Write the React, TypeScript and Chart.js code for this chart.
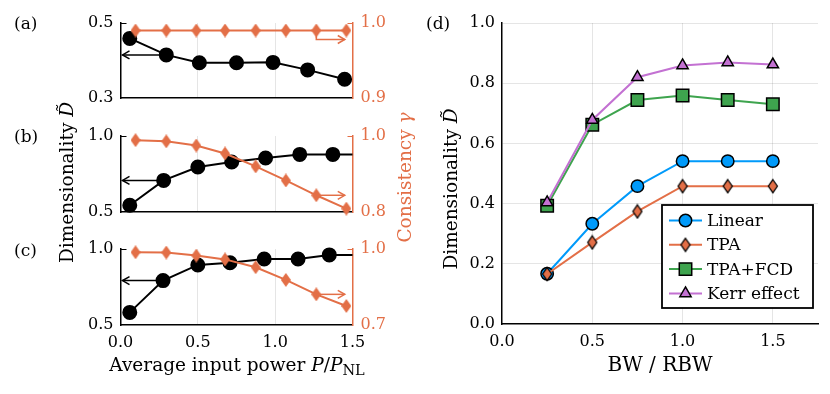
import React, { useEffect, useRef } from "react";
import { Chart, registerables } from "chart.js";
Chart.register(...registerables);

const W = 830;
const H = 394;
const BLUE = "#009AFA";
const ORANGE = "#E36F47";
const GREEN = "#3EA44E";
const PURPLE = "#C371D2";
const GRID = "rgba(0,0,0,0.1)";
const SERIF = "'DejaVu Serif', 'Liberation Serif', serif";
const FS = 16;
const TFS = 18.5;
const LFS = 17;

// ---- panels (a)-(c): dimensionality (black, left axis) and consistency (orange, right axis)
const powerTicks = [0, 0.5, 1.0, 1.5];
const powerCon = [0.097, 0.296, 0.49, 0.676, 0.874, 1.069, 1.266, 1.46];

const powerDimA = [0.06, 0.296, 0.51, 0.75, 0.986, 1.21, 1.449];
const dimA = [0.459, 0.415, 0.394, 0.394, 0.395, 0.375, 0.35];
const conA = [0.99, 0.99, 0.99, 0.99, 0.99, 0.99, 0.99, 0.99];

const powerDimB = [0.06, 0.279, 0.5, 0.719, 0.938, 1.159, 1.373, 1.59];
const dimB = [0.544, 0.708, 0.796, 0.829, 0.855, 0.879, 0.879, 0.879];
const conB = [0.989, 0.986, 0.975, 0.954, 0.92, 0.883, 0.844, 0.809];

const powerDimC = [0.06, 0.275, 0.5, 0.708, 0.929, 1.148, 1.35, 1.57];
const dimC = [0.583, 0.792, 0.895, 0.91, 0.934, 0.934, 0.961, 0.961];
const conC = [0.987, 0.986, 0.974, 0.959, 0.928, 0.878, 0.821, 0.775];

const dimTicksA = [0.3, 0.5];
const conTicksA = [0.9, 1.0];
const dimTicksB = [0.5, 1.0];
const conTicksB = [0.8, 1.0];
const dimTicksC = [0.5, 1.0];
const conTicksC = [0.7, 1.0];

// ---- panel (d)
const bwRatio = [0.25, 0.5, 0.75, 1.0, 1.25, 1.5];
const linear = [0.167, 0.333, 0.458, 0.541, 0.541, 0.541];
const tpa = [0.166, 0.271, 0.374, 0.458, 0.458, 0.458];
const tpaFcd = [0.393, 0.662, 0.744, 0.759, 0.744, 0.73];
const kerr = [0.404, 0.678, 0.82, 0.859, 0.869, 0.862];
const bwTicks = [0, 0.5, 1.0, 1.5];
const dTicks = [0, 0.2, 0.4, 0.6, 0.8, 1.0];

function diamond(fill: string, w: number, h: number, stroke: string | null, lw = 1.5) {
  const pad = stroke ? lw : 0;
  const c = document.createElement("canvas");
  c.width = Math.ceil(w + 2 * pad);
  c.height = Math.ceil(h + 2 * pad);
  const g = c.getContext("2d")!;
  const cx = c.width / 2, cy = c.height / 2;
  g.beginPath();
  g.moveTo(cx, cy - h / 2);
  g.lineTo(cx + w / 2, cy);
  g.lineTo(cx, cy + h / 2);
  g.lineTo(cx - w / 2, cy);
  g.closePath();
  g.fillStyle = fill;
  g.fill();
  if (stroke) {
    g.strokeStyle = stroke;
    g.lineWidth = lw;
    g.stroke();
  }
  return c;
}

type Run = { t: string; f: string; dy?: number };
function drawRuns(ctx: CanvasRenderingContext2D, runs: Run[], cx: number, cy: number, rot: number, color: string) {
  ctx.save();
  ctx.translate(cx, cy);
  ctx.rotate(rot);
  ctx.fillStyle = color;
  ctx.textBaseline = "alphabetic";
  ctx.textAlign = "left";
  let total = 0;
  for (const r of runs) {
    ctx.font = r.f;
    total += ctx.measureText(r.t).width;
  }
  let x = -total / 2;
  for (const r of runs) {
    ctx.font = r.f;
    ctx.fillText(r.t, x, (r.dy || 0));
    x += ctx.measureText(r.t).width;
  }
  ctx.restore();
}

function drawArrow(ctx: CanvasRenderingContext2D, pts: number[][], color: string) {
  ctx.save();
  ctx.strokeStyle = color;
  ctx.lineWidth = 1.5;
  ctx.lineJoin = "miter";
  ctx.beginPath();
  ctx.moveTo(pts[0][0], pts[0][1]);
  for (let i = 1; i < pts.length; i++) ctx.lineTo(pts[i][0], pts[i][1]);
  ctx.stroke();
  const [x1, y1] = pts[pts.length - 2];
  const [x2, y2] = pts[pts.length - 1];
  const a = Math.atan2(y2 - y1, x2 - x1);
  const L = 7, hw = 4;
  ctx.beginPath();
  ctx.moveTo(x2 - L * Math.cos(a) + hw * Math.sin(a), y2 - L * Math.sin(a) - hw * Math.cos(a));
  ctx.lineTo(x2, y2);
  ctx.lineTo(x2 - L * Math.cos(a) - hw * Math.sin(a), y2 - L * Math.sin(a) + hw * Math.cos(a));
  ctx.stroke();
  ctx.restore();
}

const tickFont = { family: SERIF, size: FS };
const fix1 = (v: any) => Number(v).toFixed(1);

type LeftSpec = {
  top: number; bottom: number; xDim: number[]; dim: number[]; con: number[];
  dimTicks: number[]; conTicks: number[]; showX: boolean; conArrow: number;
};

function leftConfig(p: LeftSpec): any {
  const LEFT = 120.5, RIGHT = 352.5;
  return {
    type: "line",
    data: {
      datasets: [
        {
          data: powerCon.map((x, i) => ({ x, y: p.con[i] })),
          yAxisID: "y2",
          borderColor: ORANGE,
          backgroundColor: ORANGE,
          borderWidth: 2,
          pointStyle: diamond(ORANGE, 10, 14, null),
          pointRadius: 7,
          order: 0,
          clip: 10,
        },
        {
          data: p.xDim.map((x, i) => ({ x, y: p.dim[i] })),
          yAxisID: "y",
          borderColor: "#000",
          backgroundColor: "#000",
          pointBorderColor: "#000",
          borderWidth: 2,
          pointStyle: "circle",
          pointRadius: 6.5,
          order: 1,
          clip: { left: 10, top: 10, bottom: 10, right: 0 },
        },
      ],
    },
    options: {
      animation: false,
      responsive: false,
      devicePixelRatio: 1,
      events: [],
      layout: { padding: { left: LEFT - 50, right: W - RIGHT - 50, top: p.top, bottom: H - p.bottom - 30 } },
      plugins: { legend: { display: false }, tooltip: { enabled: false } },
      scales: {
        x: {
          type: "linear",
          min: 0,
          max: 1.5,
          afterBuildTicks: (s: any) => { s.ticks = powerTicks.map((v) => ({ value: v })); },
          afterFit: (s: any) => { s.height = 30; },
          ticks: { display: p.showX, font: tickFont, color: "#000", padding: 8, callback: fix1, maxRotation: 0, autoSkip: false },
          grid: {
            drawTicks: false,
            color: (c: any) => (c.tick && (c.tick.value === 0.5 || c.tick.value === 1) ? GRID : "rgba(0,0,0,0)"),
            lineWidth: 1,
          },
          border: { display: true, color: "#000", width: 1.5 },
        },
        y: {
          type: "linear",
          position: "left",
          min: p.dimTicks[0],
          max: p.dimTicks[1],
          afterBuildTicks: (s: any) => { s.ticks = p.dimTicks.map((v) => ({ value: v })); },
          afterFit: (s: any) => { s.width = 50; },
          ticks: { font: tickFont, color: "#000", padding: 7, callback: fix1 },
          grid: { display: false, drawTicks: false },
          border: { display: true, color: "#000", width: 1.5 },
        },
        y2: {
          type: "linear",
          position: "right",
          min: p.conTicks[0],
          max: p.conTicks[1],
          afterBuildTicks: (s: any) => { s.ticks = p.conTicks.map((v) => ({ value: v })); },
          afterFit: (s: any) => { s.width = 50; },
          ticks: { font: tickFont, color: ORANGE, padding: 8, callback: fix1 },
          grid: { display: false, drawTicks: false },
          border: { display: true, color: ORANGE, width: 1.5 },
        },
      },
    },
    plugins: [
      {
        id: "arrows",
        afterDatasetsDraw(chart: any) {
          const { ctx, scales } = chart;
          const { x, y, y2 } = scales;
          const ca = chart.chartArea;
          // inward tick marks at the top of both axes
          ctx.save();
          ctx.lineWidth = 1;
          ctx.strokeStyle = "#000";
          ctx.beginPath();
          ctx.moveTo(ca.left, ca.top + 0.5);
          ctx.lineTo(ca.left + 6, ca.top + 0.5);
          ctx.stroke();
          ctx.strokeStyle = ORANGE;
          ctx.beginPath();
          ctx.moveTo(ca.right, ca.top + 0.5);
          ctx.lineTo(ca.right - 5, ca.top + 0.5);
          ctx.stroke();
          ctx.restore();
          const yb = y.getPixelForValue(p.dim[1]);
          drawArrow(ctx, [[x.getPixelForValue(p.xDim[1]) - 6, yb], [x.getPixelForValue(0) + 2, yb]], "#000");
          const x0 = x.getPixelForValue(powerCon[6]);
          drawArrow(
            ctx,
            [
              [x0, y2.getPixelForValue(p.con[6])],
              [x0, y2.getPixelForValue(p.conArrow)],
              [x.getPixelForValue(1.45), y2.getPixelForValue(p.conArrow)],
            ],
            ORANGE
          );
        },
      },
    ],
  };
}

function drawMarker(ctx: CanvasRenderingContext2D, ds: any, x: number, y: number) {
  const style = ds.pointStyle;
  const r = ds.pointRadius;
  ctx.save();
  ctx.fillStyle = ds.pointBackgroundColor;
  ctx.strokeStyle = "#000";
  ctx.lineWidth = ds.pointBorderWidth;
  if (typeof style !== "string") {
    ctx.drawImage(style, x - style.width / 2, y - style.height / 2);
  } else {
    ctx.beginPath();
    if (style === "circle") {
      ctx.arc(x, y, r, 0, Math.PI * 2);
    } else if (style === "rect") {
      const s = Math.SQRT1_2 * r;
      ctx.rect(x - s, y - s, 2 * s, 2 * s);
    } else if (style === "triangle") {
      let a = 0;
      ctx.moveTo(x + Math.sin(a) * r, y - Math.cos(a) * r);
      a += (2 * Math.PI) / 3;
      ctx.lineTo(x + Math.sin(a) * r, y - Math.cos(a) * r);
      a += (2 * Math.PI) / 3;
      ctx.lineTo(x + Math.sin(a) * r, y - Math.cos(a) * r);
      ctx.closePath();
    }
    ctx.fill();
    ctx.stroke();
  }
  ctx.restore();
}

function rightConfig(): any {
  const LEFT = 502, RIGHT = 818, TOP = 23, BOTTOM = 324;
  const mk = (label: string, ys: number[], color: string, style: any, r: number, order: number) => ({
    label,
    data: bwRatio.map((x, i) => ({ x, y: ys[i] })),
    borderColor: color,
    backgroundColor: color,
    pointBackgroundColor: color,
    pointBorderColor: "#000",
    pointBorderWidth: 1.5,
    borderWidth: 2,
    pointStyle: style,
    pointRadius: r,
    order,
    clip: false,
  });
  return {
    type: "line",
    data: {
      datasets: [
        mk("Linear", linear, BLUE, "circle", 6.2, 3),
        mk("TPA", tpa, ORANGE, diamond(ORANGE, 9, 13, "#000", 1.3), 7, 2),
        mk("TPA+FCD", tpaFcd, GREEN, "rect", 8.8, 1),
        mk("Kerr effect", kerr, PURPLE, "triangle", 6.5, 0),
      ],
    },
    options: {
      animation: false,
      responsive: false,
      devicePixelRatio: 1,
      events: [],
      layout: { padding: { left: LEFT - 50, right: W - RIGHT, top: TOP, bottom: H - BOTTOM - 30 } },
      plugins: { legend: { display: false }, tooltip: { enabled: false } },
      scales: {
        x: {
          type: "linear",
          min: 0,
          max: 1.75,
          afterBuildTicks: (s: any) => { s.ticks = bwTicks.map((v) => ({ value: v })); },
          afterFit: (s: any) => { s.height = 30; },
          ticks: { font: tickFont, color: "#000", padding: 8, callback: fix1, maxRotation: 0, autoSkip: false },
          grid: { drawTicks: false, color: (c: any) => (c.tick && c.tick.value > 0 ? GRID : "rgba(0,0,0,0)"), lineWidth: 1 },
          border: { display: true, color: "#000", width: 1.5 },
        },
        y: {
          type: "linear",
          min: 0,
          max: 1,
          afterBuildTicks: (s: any) => { s.ticks = dTicks.map((v) => ({ value: v })); },
          afterFit: (s: any) => { s.width = 50; },
          ticks: { font: tickFont, color: "#000", padding: 7, callback: fix1 },
          grid: { drawTicks: false, color: (c: any) => (c.tick && c.tick.value > 0 ? GRID : "rgba(0,0,0,0)"), lineWidth: 1 },
          border: { display: true, color: "#000", width: 1.5 },
        },
      },
    },
    plugins: [
      {
        id: "legendAndTitles",
        afterDraw(chart: any) {
          const ctx: CanvasRenderingContext2D = chart.ctx;
          // legend
          const bx = 662, by = 205, bw = 151, bh = 103;
          ctx.save();
          ctx.fillStyle = "#fff";
          ctx.fillRect(bx, by, bw, bh);
          ctx.lineWidth = 1.8;
          ctx.strokeStyle = "#000";
          ctx.strokeRect(bx, by, bw, bh);
          chart.data.datasets.forEach((ds: any, i: number) => {
            const cy = by + 15.5 + i * 24.3;
            ctx.strokeStyle = ds.borderColor;
            ctx.lineWidth = 2;
            ctx.beginPath();
            ctx.moveTo(669, cy);
            ctx.lineTo(702, cy);
            ctx.stroke();
            drawMarker(ctx, ds, 685.5, cy);
            ctx.fillStyle = "#000";
            ctx.font = `${LFS}px ${SERIF}`;
            ctx.textBaseline = "middle";
            ctx.textAlign = "left";
            ctx.fillText(ds.label, 707, cy + 1);
          });
          ctx.restore();

          const reg = `${TFS}px ${SERIF}`;
          const ita = `italic ${TFS}px ${SERIF}`;
          const sub = `${TFS - 4}px ${SERIF}`;
          // panel labels
          ctx.save();
          ctx.fillStyle = "#000";
          ctx.font = `${FS + 1}px ${SERIF}`;
          ctx.textBaseline = "middle";
          ctx.textAlign = "left";
          ctx.fillText("(a)", 14, 25);
          ctx.fillText("(b)", 14, 138);
          ctx.fillText("(c)", 14, 252);
          ctx.fillText("(d)", 426, 25);
          ctx.restore();
          // axis titles
          drawRuns(ctx, [{ t: "Dimensionality ", f: reg }, { t: "D\u0303", f: ita }], 73, 182.5, -Math.PI / 2, "#000");
          drawRuns(ctx, [{ t: "Consistency ", f: reg }, { t: "\u03B3", f: ita }], 411, 177.5, -Math.PI / 2, ORANGE);
          drawRuns(ctx, [{ t: "Dimensionality ", f: reg }, { t: "D\u0303", f: ita }], 457, 189, -Math.PI / 2, "#000");
          drawRuns(
            ctx,
            [
              { t: "Average input power ", f: reg },
              { t: "P", f: ita },
              { t: "/", f: reg },
              { t: "P", f: ita },
              { t: "NL", f: sub, dy: 4 },
            ],
            237,
            371,
            0,
            "#000"
          );
          drawRuns(ctx, [{ t: "BW / RBW", f: `${TFS + 1.5}px ${SERIF}` }], 660, 371, 0, "#000");
        },
      },
    ],
  };
}

export default function App() {
  const refs = [useRef<HTMLCanvasElement>(null), useRef<HTMLCanvasElement>(null), useRef<HTMLCanvasElement>(null), useRef<HTMLCanvasElement>(null)];
  useEffect(() => {
    const specs: LeftSpec[] = [
      { top: 23, bottom: 98, xDim: powerDimA, dim: dimA, con: conA, dimTicks: dimTicksA, conTicks: conTicksA, showX: false, conArrow: 0.978 },
      { top: 136, bottom: 212, xDim: powerDimB, dim: dimB, con: conB, dimTicks: dimTicksB, conTicks: conTicksB, showX: false, conArrow: conB[6] },
      { top: 249, bottom: 325, xDim: powerDimC, dim: dimC, con: conC, dimTicks: dimTicksC, conTicks: conTicksC, showX: true, conArrow: conC[6] },
    ];
    const charts: Chart[] = [];
    specs.forEach((s, i) => {
      charts.push(new Chart(refs[i].current!, leftConfig(s)));
    });
    charts.push(new Chart(refs[3].current!, rightConfig()));
    return () => charts.forEach((c) => c.destroy());
  }, []);
  const st: React.CSSProperties = { position: "absolute", left: 0, top: 0, width: W, height: H };
  return (
    <div style={{ position: "absolute", left: 0, top: 0, width: W, height: H, background: "#fff" }}>
      {refs.map((r, i) => (
        <canvas key={i} ref={r} width={W} height={H} style={st} />
      ))}
    </div>
  );
}
